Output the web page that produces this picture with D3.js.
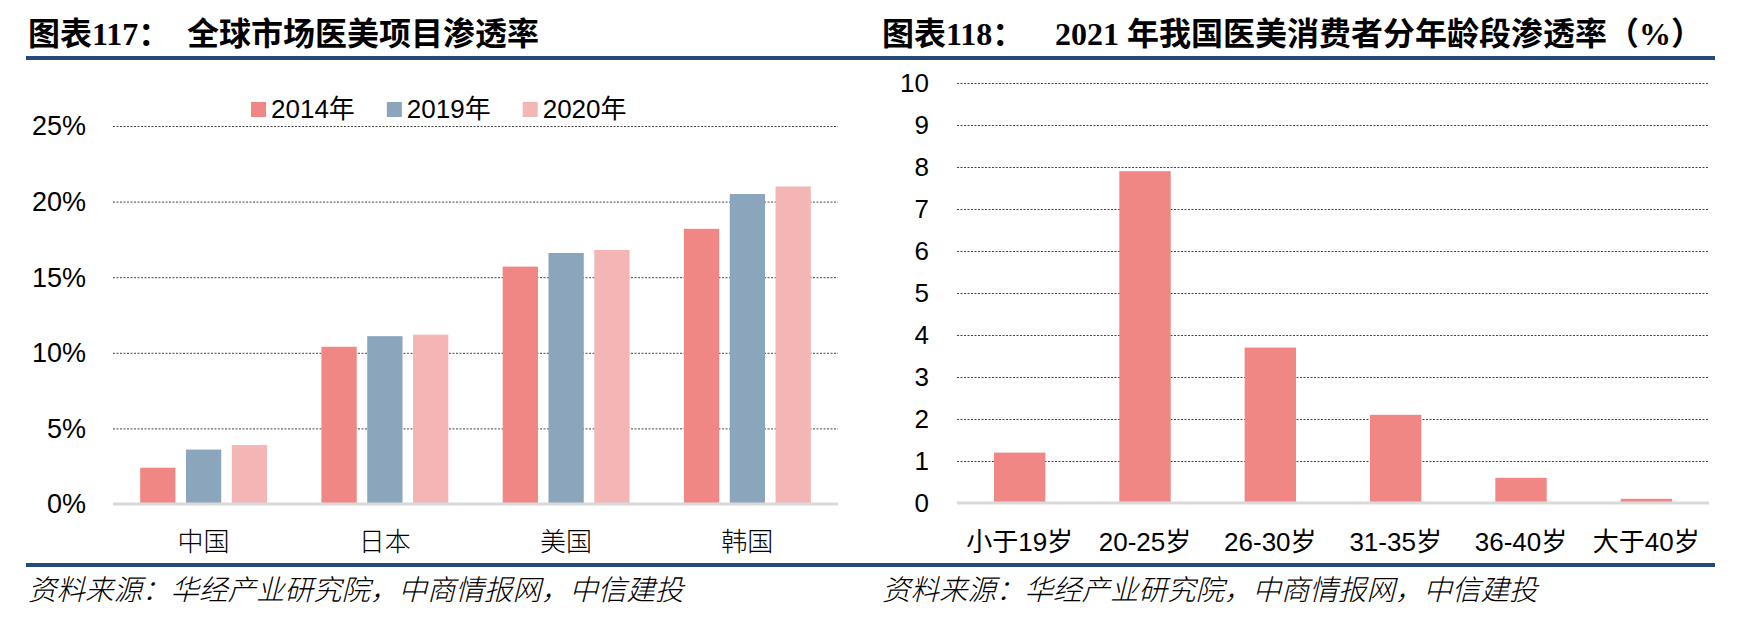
<!DOCTYPE html>
<html>
<head>
<meta charset="utf-8" />
<title>医美渗透率</title>
<script src="https://d3js.org/d3.v7.min.js"></script>
<style>
    body { margin: 0; background: #fff; }
    svg text { font-family: "Liberation Sans", "Noto Sans CJK SC", sans-serif; fill: #000; }
    .title { font-family: "Liberation Serif", "Noto Sans CJK SC", serif; font-weight: bold; font-size: 32px; }
    .source { font-family: "Noto Sans CJK SC", sans-serif; font-style: italic; font-size: 28.5px; font-weight: 300; }
    .cjk { font-family: "Noto Sans CJK SC", sans-serif; font-weight: 300; }
</style>
</head>
<body>
<svg id="chart"></svg>
<script>
    // left chart: global penetration
    const countries = ["中国", "日本", "美国", "韩国"];
    const years = ["2014年", "2019年", "2020年"];
    const yearColors = ["#f08784", "#8aa5bc", "#f4b6b5"];
    const values2014 = [2.4, 10.4, 15.7, 18.2];
    const values2019 = [3.6, 11.1, 16.6, 20.5];
    const values2020 = [3.9, 11.2, 16.8, 21.0];
    const leftTicks = [0, 5, 10, 15, 20, 25];

    // right chart: 2021 penetration by age group
    const ageGroups = ["小于19岁", "20-25岁", "26-30岁", "31-35岁", "36-40岁", "大于40岁"];
    const ageValues = [1.2, 7.9, 3.7, 2.1, 0.6, 0.1];
    const rightTicks = [0, 1, 2, 3, 4, 5, 6, 7, 8, 9, 10];

    const width = 1752, height = 626;
    const svg = d3.select("#chart").attr("width", width).attr("height", height);

    const ruleColor = "#25497a";
    const gridColor = "#444";
    const baseColor = "#d9d9d9";

    // ---------- titles and rules ----------
    function header(x0, x1, label, x2, text) {
        const t = svg.append("text").attr("class", "title").attr("y", 45);
        t.append("tspan").attr("x", x0 + 2).text(label);
        t.append("tspan").attr("x", x2).text(text);
        svg.append("rect").attr("x", x0).attr("y", 56).attr("width", x1 - x0).attr("height", 4).attr("fill", ruleColor);
        svg.append("rect").attr("x", x0).attr("y", 563).attr("width", x1 - x0).attr("height", 4).attr("fill", ruleColor);
        svg.append("text").attr("class", "source").attr("x", x0 + 2).attr("y", 600)
            .text("资料来源：华经产业研究院，中商情报网，中信建投");
    }
    header(26, 880, "图表117：", 187, "全球市场医美项目渗透率");
    header(880, 1715, "图表118：", 1055, "2021 年我国医美消费者分年龄段渗透率（%）");

    // ---------- left chart ----------
    const series = [values2014, values2019, values2020];
    const yL = d3.scaleLinear().domain([0, 25]).range([504, 126]);
    const x0 = d3.scaleBand().domain(countries).range([113, 838]).paddingInner(0.3).paddingOuter(0.15);
    const x1 = d3.scaleBand().domain(years).range([0, x0.bandwidth()]).paddingInner(0.23);

    const gL = svg.append("g");
    gL.append("g").selectAll("line").data(leftTicks.slice(1)).join("line")
        .attr("x1", 113).attr("x2", 838)
        .attr("y1", d => yL(d) + 0.5).attr("y2", d => yL(d) + 0.5)
        .attr("stroke", gridColor).attr("stroke-width", 1).attr("stroke-dasharray", "2,1.5");

    gL.append("g").selectAll("text").data(leftTicks).join("text")
        .attr("x", 86).attr("y", d => yL(d)).attr("dy", "0.35em")
        .attr("text-anchor", "end").style("font-size", "27px")
        .text(d => d + "%");

    years.forEach((yr, i) => {
        gL.append("g").selectAll("rect").data(countries).join("rect")
            .attr("x", (c) => x0(c) + x1(yr))
            .attr("width", x1.bandwidth())
            .attr("y", (c, j) => yL(series[i][j]))
            .attr("height", (c, j) => yL(0) - yL(series[i][j]))
            .attr("fill", yearColors[i]);
    });

    gL.append("line").attr("x1", 113).attr("x2", 838).attr("y1", 504).attr("y2", 504)
        .attr("stroke", baseColor).attr("stroke-width", 3);

    gL.append("g").selectAll("text").data(countries).join("text")
        .attr("class", "cjk")
        .attr("x", c => x0(c) + x0.bandwidth() / 2).attr("y", 551)
        .attr("text-anchor", "middle").style("font-size", "26px")
        .text(c => c);

    // legend
    const legend = svg.append("g").attr("transform", "translate(251,109)");
    let lx = 0;
    years.forEach((yr, i) => {
        legend.append("rect").attr("x", lx).attr("y", -7).attr("width", 15).attr("height", 15).attr("fill", yearColors[i]);
        const t = legend.append("text").attr("x", lx + 20).attr("y", 0).attr("dy", "0.36em")
            .style("font-size", "26px").text(yr);
        lx += 20 + t.node().getComputedTextLength() + 32;
    });

    // ---------- right chart ----------
    const yR = d3.scaleLinear().domain([0, 10]).range([503, 83]);
    const xR = d3.scaleBand().domain(ageGroups).range([957, 1709]).paddingInner(0.59).paddingOuter(0.295);

    const gR = svg.append("g");
    gR.append("g").selectAll("line").data(rightTicks.slice(1)).join("line")
        .attr("x1", 957).attr("x2", 1709)
        .attr("y1", d => yR(d) + 0.5).attr("y2", d => yR(d) + 0.5)
        .attr("stroke", gridColor).attr("stroke-width", 1).attr("stroke-dasharray", "2,1.5");

    gR.append("g").selectAll("text").data(rightTicks).join("text")
        .attr("x", 929).attr("y", d => yR(d)).attr("dy", "0.35em")
        .attr("text-anchor", "end").style("font-size", "26px")
        .text(d => d);

    gR.append("g").selectAll("rect").data(ageValues).join("rect")
        .attr("x", (d, i) => xR(ageGroups[i]))
        .attr("width", xR.bandwidth())
        .attr("y", d => yR(d))
        .attr("height", d => yR(0) - yR(d))
        .attr("fill", "#f08784");

    gR.append("line").attr("x1", 957).attr("x2", 1709).attr("y1", 503).attr("y2", 503)
        .attr("stroke", baseColor).attr("stroke-width", 3);

    gR.append("g").selectAll("text").data(ageGroups).join("text")
        .attr("x", a => xR(a) + xR.bandwidth() / 2).attr("y", 542).attr("dy", "0.35em")
        .attr("text-anchor", "middle").style("font-size", "26px")
        .text(a => a);
</script>
</body>
</html>
